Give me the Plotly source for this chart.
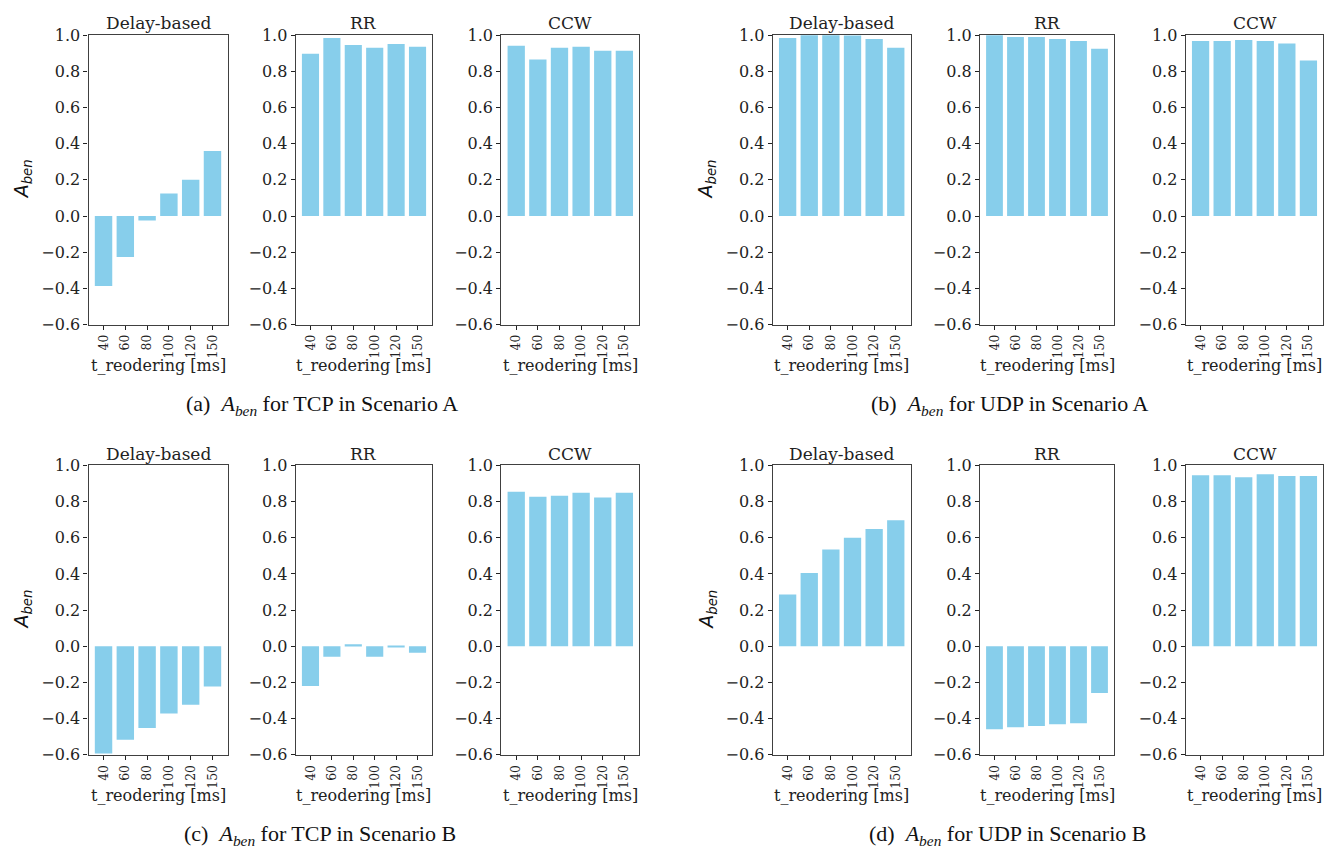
import plotly.graph_objects as go

# t_reordering values (ms) shared by every subplot
categories = ["40", "60", "80", "100", "120", "150"]
methods = ["Delay-based", "RR", "CCW"]

# A_ben, TCP, Scenario A
tcp_a_delay = [-0.387, -0.227, -0.025, 0.124, 0.200, 0.360]
tcp_a_rr = [0.897, 0.984, 0.946, 0.930, 0.951, 0.935]
tcp_a_ccw = [0.941, 0.865, 0.930, 0.935, 0.914, 0.914]

# A_ben, UDP, Scenario A
udp_a_delay = [0.984, 0.999, 0.999, 0.998, 0.978, 0.930]
udp_a_rr = [0.999, 0.989, 0.989, 0.978, 0.968, 0.924]
udp_a_ccw = [0.968, 0.968, 0.973, 0.968, 0.953, 0.859]

# A_ben, TCP, Scenario B
tcp_b_delay = [-0.593, -0.517, -0.452, -0.371, -0.323, -0.222]
tcp_b_rr = [-0.220, -0.058, 0.011, -0.058, -0.004, -0.036]
tcp_b_ccw = [0.854, 0.827, 0.832, 0.849, 0.822, 0.849]

# A_ben, UDP, Scenario B
udp_b_delay = [0.286, 0.405, 0.535, 0.600, 0.649, 0.697]
udp_b_rr = [-0.458, -0.447, -0.441, -0.431, -0.425, -0.258]
udp_b_ccw = [0.946, 0.946, 0.935, 0.951, 0.941, 0.941]

y_ticks = [-0.6, -0.4, -0.2, 0.0, 0.2, 0.4, 0.6, 0.8, 1.0]
y_ticktext = [f"{v:.1f}".replace("-", "\u2212") for v in y_ticks]

captions = [
    "(a)  <i>A</i><sub><i>ben</i></sub> for TCP in Scenario A",
    "(b)  <i>A</i><sub><i>ben</i></sub> for UDP in Scenario A",
    "(c)  <i>A</i><sub><i>ben</i></sub> for TCP in Scenario B",
    "(d)  <i>A</i><sub><i>ben</i></sub> for UDP in Scenario B",
]

panels = [
    [tcp_a_delay, tcp_a_rr, tcp_a_ccw],
    [udp_a_delay, udp_a_rr, udp_a_ccw],
    [tcp_b_delay, tcp_b_rr, tcp_b_ccw],
    [udp_b_delay, udp_b_rr, udp_b_ccw],
]

W, H = 1340, 859
# pixel extents of the plotting areas
col_px = [(88.5, 227.5), (295.7, 432.3), (501.3, 639.3),
          (772.7, 910.7), (980.0, 1114.0), (1185.7, 1323.3)]
row_px = [(26.7, 322.7), (466.7, 762.7)]
caption_cx = [322, 1010, 320, 1007]

BAR = "#87CEEB"
AX = "#404040"
SERIF = "DejaVu Serif"

fig = go.Figure()
layout = {}
annotations = []

idx = 0
for p, panel in enumerate(panels):
    row = p // 2
    half = p % 2
    top, bot = row_px[row]
    for m, values in enumerate(panel):
        idx += 1
        left, right = col_px[half * 3 + m]
        xs = "" if idx == 1 else str(idx)
        fig.add_trace(go.Bar(
            x=list(range(len(categories))), y=values,
            xaxis="x" + xs, yaxis="y" + xs,
            marker=dict(color=BAR, line=dict(width=0)),
            width=0.8, showlegend=False,
        ))
        layout["xaxis" + xs] = dict(
            domain=[left / W, right / W], anchor="y" + xs,
            range=[-0.69, 5.69],
            tickmode="array", tickvals=list(range(len(categories))),
            ticktext=categories, tickangle=-90,
            ticks="outside", ticklen=4, tickcolor="#222",
            tickfont=dict(family=SERIF, size=12.5, color="#222"),
            showline=True, linecolor=AX, linewidth=1.2, mirror=True,
            showgrid=False, zeroline=False, fixedrange=True,
        )
        layout["yaxis" + xs] = dict(
            domain=[1 - bot / H, 1 - top / H], anchor="x" + xs,
            range=[-0.6, 1.0],
            tickmode="array", tickvals=y_ticks, ticktext=y_ticktext,
            ticks="outside", ticklen=4, tickcolor="#222",
            tickfont=dict(family=SERIF, size=16, color="#222"),
            showline=True, linecolor=AX, linewidth=1.2, mirror=True,
            showgrid=False, zeroline=False, fixedrange=True,
        )
        cx = (left + right) / 2 / W
        # subplot title
        annotations.append(dict(
            text=methods[m], x=cx, y=1 - (top - 12) / H,
            xref="paper", yref="paper", xanchor="center", yanchor="middle",
            showarrow=False, font=dict(family=SERIF, size=17, color="#222"),
        ))
        # x-axis title
        annotations.append(dict(
            text="t_reodering [ms]", x=cx, y=1 - (bot + 42) / H,
            xref="paper", yref="paper", xanchor="center", yanchor="middle",
            showarrow=False, font=dict(family=SERIF, size=16, color="#222"),
        ))
        if m == 0:
            # y-axis title
            annotations.append(dict(
                text="<i>A</i><sub><i>ben</i></sub>",
                x=(left - 66) / W, y=1 - (top + bot) / 2 / H,
                xref="paper", yref="paper", xanchor="center", yanchor="middle",
                textangle=-90, showarrow=False,
                font=dict(family="DejaVu Sans", size=19, color="#111"),
            ))
    # panel caption
    annotations.append(dict(
        text=captions[p], x=caption_cx[p] / W, y=1 - (bot + 82) / H,
        xref="paper", yref="paper", xanchor="center", yanchor="middle",
        showarrow=False,
        font=dict(family="Liberation Serif", size=22, color="#111"),
    ))

fig.update_layout(
    **layout,
    annotations=annotations,
    width=W, height=H,
    margin=dict(l=0, r=0, t=0, b=0),
    paper_bgcolor="white", plot_bgcolor="white",
    bargap=0.2,
)

fig.write_html("out.html", config={"displayModeBar": False})
